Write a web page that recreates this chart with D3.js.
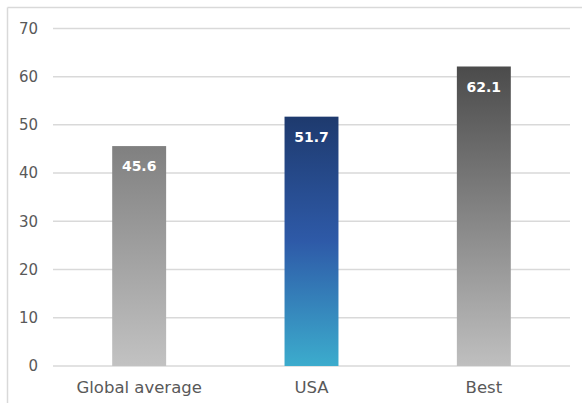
<!DOCTYPE html>
<html><head><meta charset="utf-8">
<script src="https://cdn.jsdelivr.net/npm/d3@7"></script>
<style>body{margin:0;background:#fff}svg{display:block}</style>
</head><body>
<script>
const categories = ["Global average", "USA", "Best"];
const values = [45.6, 51.7, 62.1];
const yTicks = [0, 10, 20, 30, 40, 50, 60, 70];
const gradientStops = [
  [["0%", "#808080"], ["100%", "#c2c2c2"]],
  [["0%", "#1e3a6e"], ["50%", "#2e5aa8"], ["100%", "#3caccd"]],
  [["0%", "#4b4b4b"], ["100%", "#bfbfbf"]]
];

const W = 582, H = 403;
const svg = d3.select("body").append("svg").attr("width", W).attr("height", H);
const font = "'Century Gothic', 'DejaVu Sans', sans-serif";

// frame
svg.append("line").attr("x1", 7.5).attr("x2", W).attr("y1", 7.5).attr("y2", 7.5).attr("stroke", "#d9d9d9").attr("stroke-width", 1.5);
svg.append("line").attr("x1", 7.5).attr("x2", 7.5).attr("y1", 7.5).attr("y2", H).attr("stroke", "#d9d9d9").attr("stroke-width", 1.5);

const x = d3.scaleBand().domain(categories).range([53, 570]).paddingInner(0.687).paddingOuter(0.3435);
const y = d3.scaleLinear().domain([0, 70]).range([366, 28.4]);

const defs = svg.append("defs");
gradientStops.forEach((stops, i) => {
  const g = defs.append("linearGradient").attr("id", "g" + i).attr("x1", 0).attr("x2", 0).attr("y1", 0).attr("y2", 1);
  stops.forEach(s => g.append("stop").attr("offset", s[0]).attr("stop-color", s[1]));
});

// grid
const yAxis = d3.axisLeft(y).tickValues(yTicks).tickSize(0).tickPadding(15).tickFormat(d3.format("d"));
const ga = svg.append("g").attr("transform", "translate(53,0)").call(yAxis);
ga.select(".domain").remove();
ga.selectAll("text").attr("font-family", font).attr("font-size", 15).attr("fill", "#595959");
svg.append("g").selectAll("line").data(yTicks).join("line")
  .attr("x1", 53).attr("x2", 570).attr("y1", d => y(d)).attr("y2", d => y(d))
  .attr("stroke", "#d9d9d9").attr("stroke-width", 1.5);

// bars
svg.append("g").selectAll("rect").data(values).join("rect")
  .attr("x", (d, i) => x(categories[i])).attr("width", x.bandwidth())
  .attr("y", d => y(d)).attr("height", d => y(0) - y(d))
  .attr("fill", (d, i) => `url(#g${i})`);

// value labels
svg.append("g").selectAll("text").data(values).join("text")
  .attr("x", (d, i) => x(categories[i]) + x.bandwidth() / 2)
  .attr("y", d => y(d) + 25)
  .attr("text-anchor", "middle").attr("font-family", font).attr("font-weight", "bold")
  .attr("font-size", 14).attr("fill", "#ffffff").text(d => d.toFixed(1));

// x axis labels
const xAxis = d3.axisBottom(x).tickSize(0).tickPadding(15);
const gx = svg.append("g").attr("transform", "translate(0,366)").call(xAxis);
gx.select(".domain").remove();
gx.selectAll("text").attr("font-family", font).attr("font-size", 16.5).attr("fill", "#595959");
</script>
</body></html>
